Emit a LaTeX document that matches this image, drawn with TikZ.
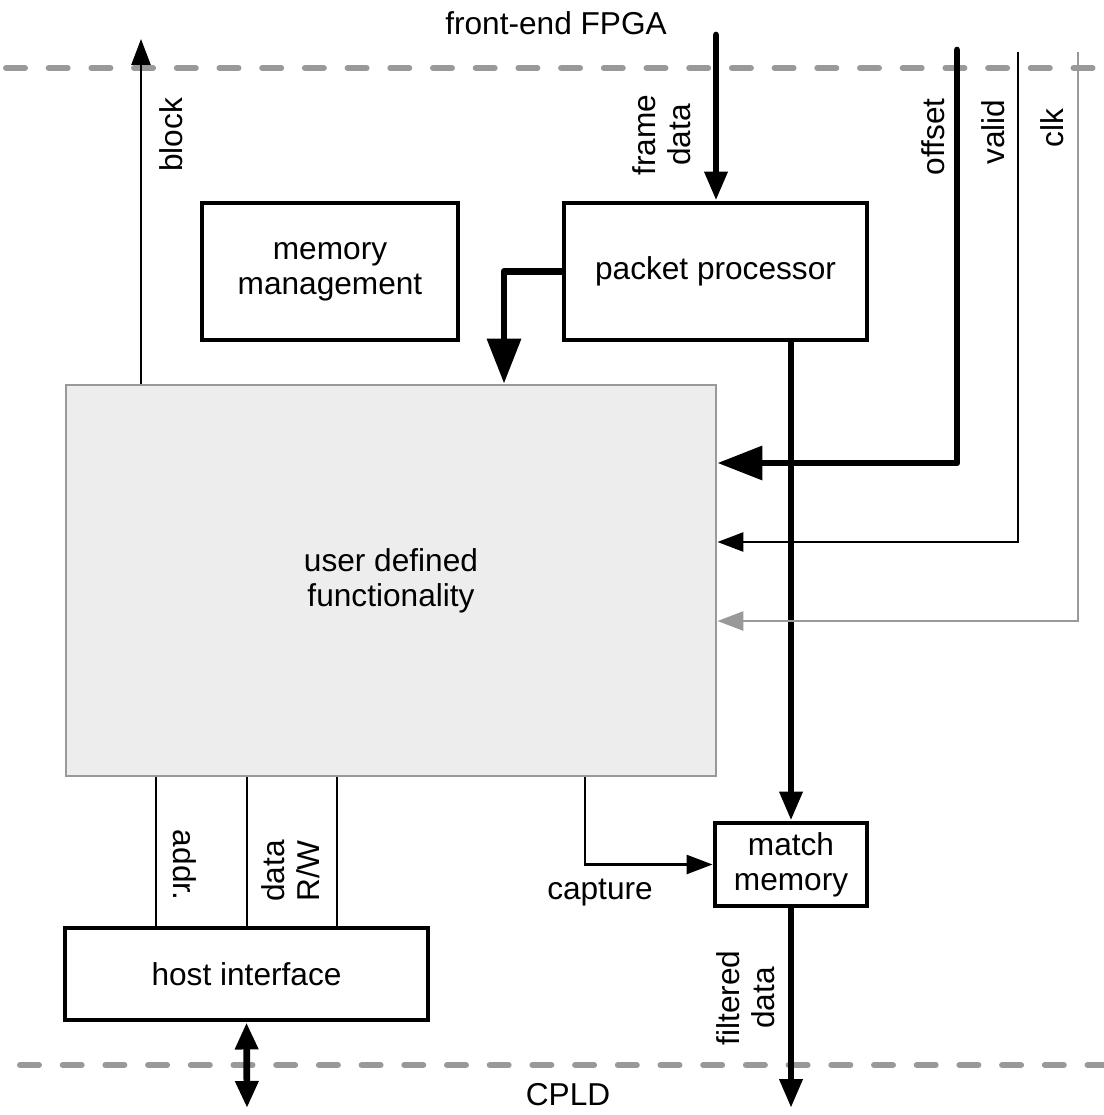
\documentclass[tikz,border=0pt]{standalone}
\usepackage{fontspec}
\setmainfont{Liberation Sans}
\usetikzlibrary{arrows.meta,calc,positioning}
\definecolor{udfFill}{RGB}{237,237,237}
\definecolor{lineGray}{RGB}{153,153,153}

\begin{document}
\begin{tikzpicture}[every node/.style={font=\fontsize{9}{10}\selectfont},
  blk/.style={draw, line width=1.4pt, inner sep=0pt, align=center},
  bus/.style={line width=1.9pt, line cap=round, line join=round},
  sig/.style={line width=0.75pt},
  border/.style={draw=lineGray, line width=1.7pt, dash pattern=on 1.9mm off 2.37mm, line cap=round},
  bigtip/.style={-{Triangle[length=4.5mm,width=3.3mm]}},
  midtip/.style={-{Triangle[length=2.9mm,width=2.2mm]}},
  smalltip/.style={-{Triangle[length=2.6mm,width=1.9mm]}}]
  \useasboundingbox (0,0) rectangle (11.04,-11.15);
  % board boundaries
  \draw[border] (0.06,-0.68) -- (11.10,-0.68);
  \draw[border] (0.20,-10.65) -- (11.10,-10.65);
  % blocks
  \node[blk, minimum width=2.56cm, minimum height=1.37cm] (mem) at (3.30,-2.715) {memory\\management};
  \node[blk, minimum width=3.03cm, minimum height=1.37cm] (pp) at (7.155,-2.715) {packet processor};
  \node[draw=lineGray, fill=udfFill, line width=0.8pt, inner sep=0pt, align=center,
        minimum width=6.50cm, minimum height=3.91cm] (udf) at (3.91,-5.805) {user defined\\functionality};
  \node[blk, minimum width=1.52cm, minimum height=0.83cm] (mm) at (7.91,-8.645) {match\\memory};
  \node[blk, minimum width=3.63cm, minimum height=0.92cm] (host) at (2.465,-9.74) {host interface};
  % free ends and bends
  \coordinate (fpga) at (7.16,-0.35);
  \coordinate (offtop) at (9.57,-0.50);
  \coordinate (validtop) at (10.18,-0.52);
  \coordinate (clktop) at (10.78,-0.52);
  \coordinate (blockout) at (1.41,-0.39);
  \coordinate (ppbend) at (5.04,-2.715);
  \coordinate (capbend) at (5.85,-8.645);
  \coordinate (hostout) at (2.47,-11.08);
  \coordinate (filtout) at (7.91,-11.08);
  % connections
  \draw[sig, smalltip] (udf.north -| blockout) -- (blockout);
  \draw[bus, midtip] (fpga) -- (pp.north -| fpga);
  \draw[bus, bigtip] (pp.west) -- (ppbend) -- (udf.north -| ppbend);
  \draw[bus, midtip] (pp.south -| mm.north) -- (mm.north);
  \draw[bus, bigtip] (offtop) |- ([yshift=11.75mm]udf.east);
  \draw[sig, smalltip] (validtop) |- ([yshift=3.85mm]udf.east);
  \draw[sig, draw=lineGray, -{Triangle[length=2.6mm,width=1.9mm,fill=lineGray]}] (clktop) |- ([yshift=-4.05mm]udf.east);
  \draw[sig, smalltip] (udf.south -| capbend) -- (capbend) -- (mm.west);
  \foreach \x in {1.56,2.47,3.37} { \draw[sig] (udf.south -| \x,0) -- (host.north -| \x,0); }
  \draw[bus, {Triangle[length=2.7mm,width=2.2mm]}-{Triangle[length=2.7mm,width=2.2mm]}] (host.south) -- (hostout);
  \draw[bus, midtip] (mm.south) -- (filtout);
  % labels
  \node (lfpga) at (5.56,-0.23) {front-end FPGA};
  \node (lcpld) at (5.68,-10.95) {CPLD};
  \node[rotate=90] (lblock) at (1.71,-1.35) {block};
  \node[rotate=90, align=center] (lframe) at (6.62,-1.35) {frame\\data};
  \node[rotate=90] (loffset) at (9.33,-1.37) {offset};
  \node[rotate=90] (lvalid) at (9.93,-1.32) {valid};
  \node[rotate=90] (lclk) at (10.52,-1.28) {clk};
  \node[rotate=-90] (laddr) at (1.85,-8.65) {addr.};
  \node[rotate=90, align=center] (ldata) at (2.91,-8.71) {data\\R/W};
  \node (lcapture) at (6.00,-8.93) {capture};
  \node[rotate=90, align=center] (lfilt) at (7.46,-9.98) {filtered\\data};
\end{tikzpicture}
\end{document}
